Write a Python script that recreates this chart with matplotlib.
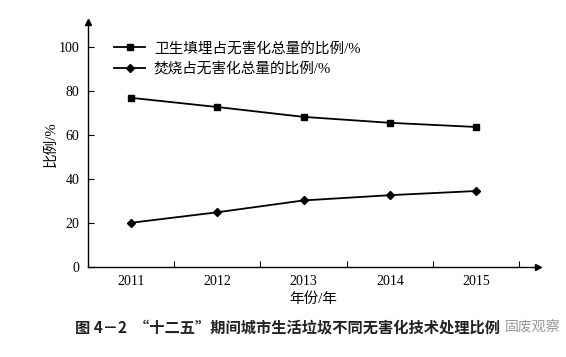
import matplotlib
matplotlib.use('Agg')
import matplotlib.pyplot as plt
from matplotlib.lines import Line2D

###############################################################################

years = ['2011', '2012', '2013', '2014', '2015']

# share of landfill / incineration in total harmless treatment (%)
landfill = [77.0, 72.8, 68.3, 65.6, 63.7]
incineration = [20.0, 24.8, 30.2, 32.6, 34.5]

landfill_label = '卫生填埋占无害化总量的比例/%'
incin_label = '焚烧占无害化总量的比例/%'

y_ticks = [0, 20, 40, 60, 80, 100]

caption = '图 4－2  “十二五”期间城市生活垃圾不同无害化技术处理比例'
watermark = '固废观察'

###############################################################################

serif_cjk = ['Liberation Serif', 'Noto Sans CJK SC']
plt.rcParams['font.family'] = serif_cjk

fig = plt.figure(figsize=(5.66, 3.57), dpi=100)
ax = fig.add_axes([0.155, 0.253, 0.796, 0.685])

xx = list(range(len(years)))
ax.plot(xx, landfill, color='black', lw=1.3, marker='s', ms=4.5)
ax.plot(xx, incineration, color='black', lw=1.3, marker='D', ms=4.2)

ax.set_xlim(-0.5, 4.72)
ax.set_ylim(0, 111.5)

ax.spines['top'].set_visible(False)
ax.spines['right'].set_visible(False)
for sp in ['left', 'bottom']:
    ax.spines[sp].set_linewidth(1.0)

# arrow heads on the axes
ax.plot(1, 0, '>', color='black', ms=5, transform=ax.transAxes,
        clip_on=False)
ax.plot(0, 1, '^', color='black', ms=5, transform=ax.transAxes,
        clip_on=False)

ax.set_xticks(xx)
ax.set_xticklabels(years, fontsize=10)
ax.set_xticks([x + 0.5 for x in xx], minor=True)
ax.tick_params(axis='x', which='major', length=0, pad=6)
ax.tick_params(axis='x', which='minor', direction='in', length=4, width=0.8)

ax.set_yticks(y_ticks)
ax.set_yticklabels([str(v) for v in y_ticks], fontsize=10)
ax.tick_params(axis='y', direction='in', length=4, width=0.8, pad=6)

ax.set_xlabel('年份/年', fontsize=10.5, labelpad=3)
ax.set_ylabel('比例/%', fontsize=10.5, labelpad=1)

handles = [Line2D([], [], color='black', lw=1.3, marker='s', ms=4.5),
           Line2D([], [], color='black', lw=1.3, marker='D', ms=4.2)]
ax.legend(handles, [landfill_label, incin_label], loc='upper left',
          bbox_to_anchor=(0.03, 0.975), frameon=False, fontsize=10.5,
          handlelength=2.1, handletextpad=0.6, labelspacing=0.45)

fig.text(0.133, 0.084, caption, fontsize=11, fontweight='bold',
         family=['Noto Sans CJK SC', 'DejaVu Sans'], color='#222222',
         va='center', ha='left')
fig.text(0.99, 0.084, watermark, fontsize=10, color='#9a9a9a',
         family=['Noto Sans CJK SC'], va='center', ha='right')

plt.savefig('out.png', dpi=100)
